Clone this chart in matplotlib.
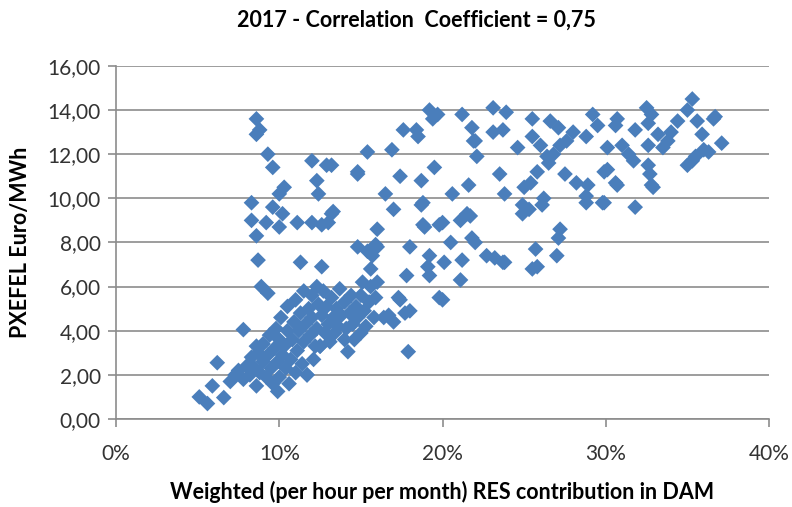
import matplotlib.pyplot as plt
from matplotlib.ticker import FuncFormatter

# RES share (%) and PXEFEL price (Euro/MWh)
res_share = [
    5.1, 5.6, 6.6, 5.9, 6.2, 7.0, 7.3, 7.5, 7.8, 7.8, 8.0, 8.2, 8.3, 8.5, 8.6, 8.6,
    8.7, 8.8, 9.0, 9.0, 9.2, 9.3, 9.4, 9.5, 9.6, 9.7, 9.8, 9.9, 9.9, 10.0, 10.0, 10.1,
    10.2, 10.3, 10.4, 10.5, 10.5, 10.6, 10.7, 10.8, 10.9, 11.0, 11.0, 11.1, 11.2, 11.3,
    11.4, 11.5, 11.5, 11.6, 11.7, 11.7, 11.8, 11.9, 12.0, 12.0, 12.1, 12.2, 12.3, 12.3,
    12.4, 12.5, 12.5, 12.6, 12.7, 12.8, 12.9, 13.0, 13.1, 13.2, 13.3, 13.4, 13.5, 13.6,
    13.7, 13.8, 14.0, 14.0, 14.1, 14.2, 14.3, 14.4, 14.5, 14.6, 14.7, 14.8, 15.0, 15.0,
    15.2, 15.3, 15.5, 15.6, 15.8, 15.9, 16.0, 16.4, 17.0, 17.4, 18.0, 17.9, 16.7, 17.7,
    17.3, 19.8, 15.1, 15.6, 15.7, 17.8, 19.1, 20.1, 21.1, 19.2, 20.0, 21.2, 22.7, 23.7,
    25.5, 25.7, 27.0, 23.2, 23.8, 22.0, 25.8, 27.1,
    # middle band 7-14
    8.7, 11.3, 12.6, 8.9, 9.3, 8.6, 8.8, 8.6, 9.3, 9.6, 12.0, 12.9, 12.3, 12.4, 10.3,
    10.0, 8.3, 9.6, 10.2, 8.3, 9.2, 10.0, 11.1, 12.0, 12.6, 8.6, 13.3, 14.8, 15.4,
    16.9, 17.4, 18.7, 16.5, 17.0, 18.7, 18.8, 17.6, 18.4, 18.5, 19.2, 19.4, 19.5,
    18.0, 19.2, 14.8, 16.0, 16.0, 15.4, 19.7, 21.2, 21.8, 21.9, 13.2, 14.8, 21.6,
    20.6, 18.9, 20.0, 21.1, 21.5, 13.2, 13.0, 15.9, 20.5, 21.8, 19.8, 18.8, 22.1,
    # upper right cloud
    23.1, 23.9, 23.1, 23.7, 22.0, 25.5, 26.6, 27.1, 25.5, 26.0, 26.4, 26.5, 27.2,
    28.0, 28.8, 29.2, 29.5, 30.1, 30.6, 23.5, 25.8, 25.4, 27.5, 28.2, 28.9, 29.9,
    30.6, 23.8, 25.0, 24.9, 24.9, 26.1, 28.8, 29.9, 21.7, 27.2, 25.3, 28.8, 29.8,
    30.1, 32.5, 32.8, 32.6, 30.7, 31.8, 35.3, 35.0, 34.4, 35.6, 36.7, 35.9, 37.1,
    36.3, 35.5, 35.0, 33.2, 33.5, 32.6, 31.0, 31.4, 31.7, 32.6, 32.7, 32.8, 30.7,
    31.8, 36.6, 35.3, 32.9, 34.0, 33.8, 36.0, 26.8, 27.6, 24.6, 26.2,
]
price = [
    1.0, 0.7, 0.97, 1.5, 2.55, 1.7, 2.0, 2.2, 1.8, 4.05, 2.4, 2.0, 2.8, 2.3, 1.5, 3.3,
    3.0, 2.1, 2.6, 3.4, 1.9, 2.9, 3.8, 2.3, 1.6, 3.2, 4.1, 2.6, 1.25, 3.6, 1.9, 4.6,
    2.9, 3.3, 2.3, 4.0, 5.1, 1.6, 2.7, 3.6, 4.4, 2.1, 5.4, 3.1, 4.0, 4.8,
    2.5, 3.5, 5.8, 4.3, 2.0, 2.0, 5.0, 3.8, 4.6, 5.6, 2.7, 3.3, 4.1, 6.0,
    5.2, 3.3, 3.3, 4.7, 5.8, 3.9, 5.1, 4.3, 3.5, 5.5, 4.6, 3.9, 5.0, 4.2,
    5.9, 4.7, 3.6, 5.3, 4.1, 3.05, 4.8, 5.6, 4.3, 3.6, 5.1, 4.6, 3.9, 5.6,
    4.9, 4.2, 5.3, 6.0, 4.6, 5.5, 6.2, 4.6, 4.4, 5.4, 4.9, 3.05, 4.7, 4.8,
    5.5, 5.5, 6.2, 6.8, 7.4, 6.5, 6.9, 7.1, 6.3, 6.5, 5.4, 7.2, 7.4, 7.1,
    6.8, 7.7, 7.4, 7.3, 7.1, 8.0, 6.9, 8.2,
    # middle band 7-14
    7.2, 7.1, 6.9, 6.0, 5.7, 13.6, 13.1, 12.9, 12.0, 11.4, 11.7, 11.5, 10.8, 10.2, 10.5,
    10.2, 9.8, 9.6, 9.3, 9.0, 8.9, 8.7, 8.9, 8.9, 8.8, 8.3, 9.4, 11.2, 12.1,
    12.2, 11.0, 10.8, 10.2, 9.5, 9.7, 8.8, 13.1, 13.1, 12.8, 14.0, 13.6, 11.4,
    7.8, 7.4, 7.8, 8.6, 7.8, 7.6, 13.8, 13.8, 13.2, 12.6, 11.5, 11.1, 10.6,
    10.2, 8.7, 8.9, 9.0, 9.3, 9.3, 8.9, 7.9, 8.0, 8.2, 8.8, 9.8, 11.9,
    # upper right cloud
    14.1, 13.9, 13.0, 13.1, 12.6, 13.6, 13.5, 13.2, 12.8, 12.4, 11.9, 11.6, 12.4,
    13.0, 12.8, 13.8, 13.3, 12.3, 13.3, 11.1, 11.2, 10.7, 11.1, 10.7, 10.6, 11.2,
    10.7, 10.2, 10.5, 9.7, 9.3, 9.7, 9.8, 9.8, 9.2, 8.6, 9.5, 10.1, 9.8,
    11.3, 14.1, 13.8, 13.4, 13.6, 13.1, 14.5, 14.0, 13.5, 13.5, 13.7, 12.9, 12.5,
    12.1, 11.9, 11.5, 12.9, 12.3, 12.4, 12.4, 12.0, 11.7, 11.5, 11.1, 10.6, 10.6,
    9.6, 13.6, 11.7, 10.5, 13.0, 12.6, 12.2, 12.0, 12.6, 12.3, 10.0,
]

x_ticks = [0, 10, 20, 30, 40]
y_ticks = [0, 2, 4, 6, 8, 10, 12, 14, 16]

plt.rcParams['font.family'] = ['Lato', 'DejaVu Sans']

fig, ax = plt.subplots(figsize=(7.92, 5.07), dpi=100)
fig.subplots_adjust(left=0.1465, right=0.971, top=0.870, bottom=0.1736)

ax.scatter(res_share, price, marker='D', s=64, c='#4A7EBB', edgecolors='none', zorder=3)

ax.set_xlim(0, 40)
ax.set_ylim(0, 16)
ax.set_xticks(x_ticks)
ax.set_yticks(y_ticks)
ax.xaxis.set_major_formatter(FuncFormatter(lambda v, p: f'{v:.0f}%'))
ax.yaxis.set_major_formatter(FuncFormatter(lambda v, p: f'{v:.2f}'.replace('.', ',')))

ax.grid(axis='y', color='#8c8c8c', linewidth=1.2, zorder=0)
ax.set_axisbelow(True)
for side in ['top', 'right']:
    ax.spines[side].set_visible(False)
for side in ['left', 'bottom']:
    ax.spines[side].set_color('#8c8c8c')
    ax.spines[side].set_linewidth(1.2)
ax.tick_params(axis='both', colors='#8c8c8c', length=6, width=1.2, labelsize=15,
               labelcolor='#333333')
ax.tick_params(axis='x', pad=12)
ax.tick_params(axis='y', pad=5)

ax.set_title('2017 - Correlation  Coefficient = 0,75', fontsize=15.5, fontweight='bold',
             pad=28, x=0.46)
ax.set_xlabel('Weighted (per hour per month) RES contribution in DAM', fontsize=15.5,
              fontweight='bold', labelpad=12)
ax.set_ylabel('PXEFEL Euro/MWh', fontsize=15.5, fontweight='bold', labelpad=12)

plt.savefig('out.png', dpi=100)
